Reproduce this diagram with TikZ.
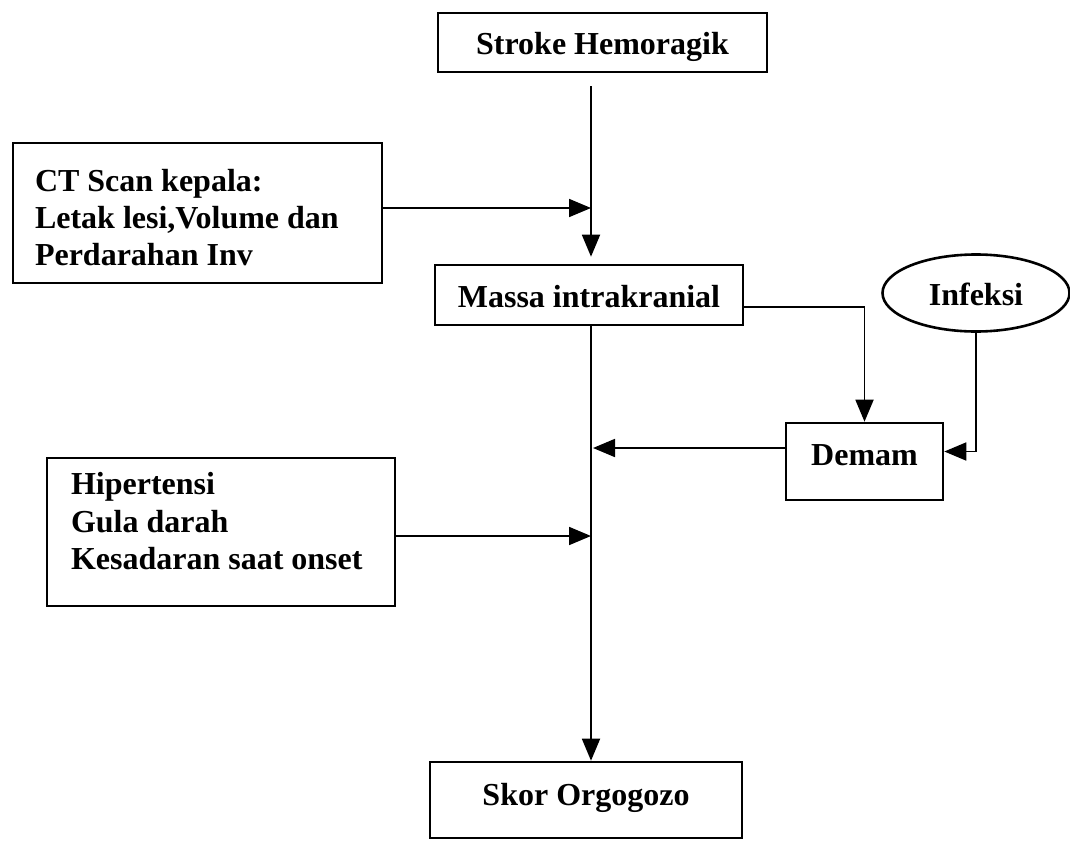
\documentclass[tikz,border=0pt]{standalone}
\usepackage{fontspec}
\setmainfont{Liberation Serif}
\usetikzlibrary{arrows.meta,shapes.geometric}
\begin{document}
\begin{tikzpicture}[x=0.5pt,y=-0.5pt,
  box/.style={draw, line width=1.3pt, inner sep=0pt, font=\bfseries\fontsize{16}{18}\selectfont},
  arr/.style={line width=0.9pt, -{Triangle[length=11pt,width=9pt]}},
  ln/.style={line width=0.9pt}]
\useasboundingbox (0,0) rectangle (1070,840);
\node[box, minimum width=164.5pt, minimum height=29.5pt, text height=12.5pt, text depth=0pt] (stroke) at (602.5,42.5) {Stroke Hemoragik};
\node[box, minimum width=184.5pt, minimum height=70pt, inner xsep=11pt, text width=162.5pt, align=flush left, font=\bfseries\fontsize{16}{18.5}\selectfont] (ct) at (197.5,213) {\rule{0pt}{15.5pt}CT Scan kepala:\\Letak lesi,Volume dan\\Perdarahan Inv};
\node[box, minimum width=154pt, minimum height=30pt, text height=12pt, text depth=0pt] (m) at (589,295) {Massa intrakranial};
\node[box, ellipse, minimum width=93.5pt, minimum height=38.5pt, text height=12pt, text depth=0pt] (inf) at (976,293) {Infeksi};
\node[box, minimum width=78.5pt, minimum height=38.5pt, text height=11pt, text depth=7.5pt] (d) at (864.5,461.5) {Demam};
\node[box, minimum width=174pt, minimum height=74pt, inner xsep=12pt, text width=150pt, align=flush left, font=\bfseries\fontsize{16}{18.75}\selectfont] (hip) at (221,532) {\rule{0pt}{11pt}Hipertensi\\Gula darah\\Kesadaran saat onset\rule[-11pt]{0pt}{11pt}};
\node[box, minimum width=156pt, minimum height=38pt, text height=11pt, text depth=6pt] (sk) at (586,800) {Skor Orgogozo};
\coordinate (j1) at (591,208);
\coordinate (j2) at (591,448);
\coordinate (j3) at (591,536);
\draw[ln, shorten <=6.5pt] (stroke.south -| j1) -- (j1);
\draw[arr, shorten >=3.5pt] (j1) -- (j1 |- m.north);
\draw[arr] (ct.east |- j1) -- (j1);
\draw[arr] ([yshift=-6pt]m.east) -| (d.north);
\draw[arr] (inf.south) |- ([yshift=5pt]d.east);
\draw[arr, shorten >=1pt] (d.west |- j2) -- (j2);
\draw[arr] (hip.east |- j3) -- (j3);
\draw[arr] (m.south -| j1) -- (sk.north -| j1);
\end{tikzpicture}
\end{document}
